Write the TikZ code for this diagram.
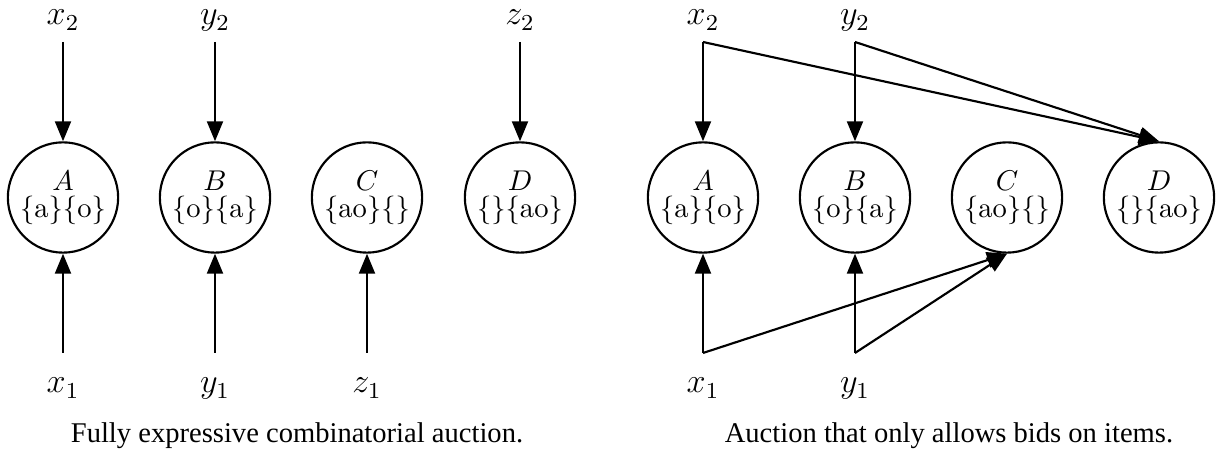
\documentclass[tikz,border=0pt]{standalone}
\usepackage{fontspec}
\newfontfamily\capfont{Liberation Serif}
\usetikzlibrary{arrows.meta}
\tikzset{
  agent/.style={draw, circle, line width=0.75pt, minimum size=38.6pt, inner sep=0pt, align=center, font=\fontsize{10}{9.5}\selectfont},
  var/.style={anchor=base, inner sep=0pt, font=\large},
  captext/.style={anchor=base, inner sep=0pt, font=\capfont\fontsize{10}{12}\selectfont},
  bid/.style={line width=0.75pt, -{Triangle[length=7pt,width=5.6pt]}}
}
\newcommand{\agtext}[2]{$#1$\\#2}
\begin{document}
\begin{tikzpicture}[x=0.35pt, y=-0.35pt]
\useasboundingbox (0,0) rectangle (1225,450);
% ---------- left panel ----------
\node[agent] (lA) at (63,197.5) {\agtext{A}{\{a\}\{o\}}};
\node[agent] (lB) at (215,197.5) {\agtext{B}{\{o\}\{a\}}};
\node[agent] (lC) at (367,197.5) {\agtext{C}{\{ao\}\{\}}};
\node[agent] (lD) at (520,197.5) {\agtext{D}{\{\}\{ao\}}};
\node[var] (lx2) at (63,25) {$x_2$};
\node[var] (ly2) at (215,25) {$y_2$};
\node[var] (lz2) at (520,25) {$z_2$};
\node[var] (lx1) at (63,393) {$x_1$};
\node[var] (ly1) at (215,393) {$y_1$};
\node[var] (lz1) at (367,393) {$z_1$};
\coordinate (lx2s) at (63,42);
\coordinate (ly2s) at (215,42);
\coordinate (lz2s) at (520,42);
\coordinate (lx1s) at (63,353);
\coordinate (ly1s) at (215,353);
\coordinate (lz1s) at (367,353);
\draw[bid] (lx2s) -- (lA.north);
\draw[bid] (ly2s) -- (lB.north);
\draw[bid] (lz2s) -- (lD.north);
\draw[bid] (lx1s) -- (lA.south);
\draw[bid] (ly1s) -- (lB.south);
\draw[bid] (lz1s) -- (lC.south);
\node[captext] (lcap) at (297,443) {Fully expressive combinatorial auction.};
% ---------- right panel ----------
\node[agent] (rA) at (703,197.5) {\agtext{A}{\{a\}\{o\}}};
\node[agent] (rB) at (855,197.5) {\agtext{B}{\{o\}\{a\}}};
\node[agent] (rC) at (1007,197.5) {\agtext{C}{\{ao\}\{\}}};
\node[agent] (rD) at (1159,197.5) {\agtext{D}{\{\}\{ao\}}};
\node[var] (rx2) at (703,25) {$x_2$};
\node[var] (ry2) at (855,25) {$y_2$};
\node[var] (rx1) at (703,393) {$x_1$};
\node[var] (ry1) at (855,393) {$y_1$};
\coordinate (rx2s) at (703,42);
\coordinate (ry2s) at (855,42);
\coordinate (rx1s) at (703,353);
\coordinate (ry1s) at (855,353);
\draw[bid] (rx2s) -- (rA.north);
\draw[bid] (rx2s) -- (rD.north);
\draw[bid] (ry2s) -- (rB.north);
\draw[bid] (ry2s) -- (rD.north);
\draw[bid] (rx1s) -- (rA.south);
\draw[bid] (rx1s) -- (rC.south);
\draw[bid] (ry1s) -- (rB.south);
\draw[bid] (ry1s) -- (rC.south);
\node[captext] (rcap) at (949,443) {Auction that only allows bids on items.};
\end{tikzpicture}
\end{document}
